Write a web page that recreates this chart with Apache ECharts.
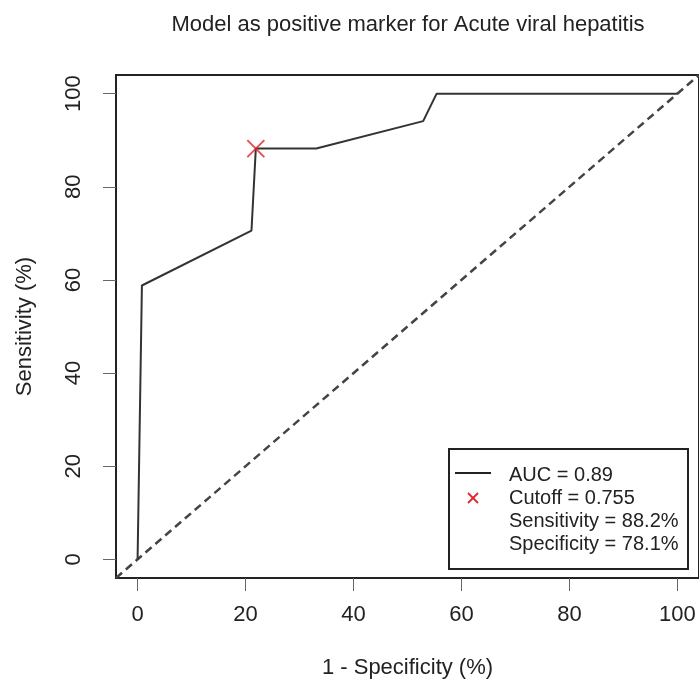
<!DOCTYPE html>
<html>
<head>
<meta charset="utf-8">
<script src="https://cdn.jsdelivr.net/npm/echarts@6/dist/echarts.min.js"></script>
<style>html,body{margin:0;padding:0;background:#fff;}#c{width:699px;height:687px;}</style>
</head>
<body>
<div id="c"></div>
<script>
const fpr = [0, 0.8, 21.1, 21.9, 33.1, 52.9, 55.4, 100];
const tpr = [0, 58.8, 70.6, 88.2, 88.2, 94.1, 100, 100];
const cutoffX = [21.9];
const cutoffY = [88.2];
const diagX = [-4, 104];
const diagY = [-4, 104];
const ticks = [0, 20, 40, 60, 80, 100];
const legendLines = ['AUC = 0.89', 'Cutoff = 0.755', 'Sensitivity = 88.2%', 'Specificity = 78.1%'];

const FONT = '"Liberation Sans", Arial, Helvetica, sans-serif';
const chart = echarts.init(document.getElementById('c'));
const rocData = fpr.map((x, i) => [x, tpr[i]]);
const cutData = cutoffX.map((x, i) => [x, cutoffY[i]]);
const diagData = diagX.map((x, i) => [x, diagY[i]]);
const CROSS = 'path://M0 0L10 10M10 0L0 10';

function axis(name, rotate, margin, nameGap) {
  return {
    type: 'value', min: -4, max: 104,
    name: name, nameLocation: 'middle', nameGap: nameGap,
    nameTextStyle: { fontFamily: FONT, fontSize: 22, color: '#222' },
    axisLine: { show: false, onZero: false },
    splitLine: { show: false },
    axisTick: { show: true, inside: false, customValues: ticks, length: 13, lineStyle: { color: '#666', width: 1 } },
    axisLabel: { show: true, inside: false, customValues: ticks, rotate: rotate, margin: margin, fontFamily: FONT, fontSize: 22, color: '#222' }
  };
}

const lx = 449, ly = 449;
chart.setOption({
  animation: false,
  backgroundColor: '#fff',
  grid: { left: 116, top: 75, width: 585, height: 503, show: true, borderColor: '#222', borderWidth: 2, backgroundColor: 'transparent', containLabel: false },
  xAxis: axis('1 - Specificity (%)', 0, 26, 79),
  yAxis: axis('Sensitivity (%)', 90, 31, 80),
  series: [
    { type: 'line', data: diagData, showSymbol: false, symbol: 'none', silent: true,
      lineStyle: { color: '#444', width: 2.5, type: [8, 5] }, z: 1 },
    { type: 'line', data: rocData, showSymbol: false, symbol: 'none',
      lineStyle: { color: '#333', width: 2 }, z: 2 },
    { type: 'scatter', data: cutData, symbol: CROSS, symbolSize: 17,
      itemStyle: { color: 'none', borderColor: '#e0262e', borderWidth: 2 }, z: 3 }
  ],
  graphic: [
    { type: 'text', z: 10, style: { x: 408, y: 25, text: 'Model as positive marker for Acute viral hepatitis', fontFamily: FONT, fontSize: 22, fill: '#222', textAlign: 'center', textVerticalAlign: 'middle', verticalAlign: 'middle' } },
    { type: 'rect', shape: { x: lx, y: ly, width: 239, height: 120 }, style: { fill: '#fff', stroke: '#222', lineWidth: 2 }, z: 10 },
    { type: 'line', shape: { x1: 455, y1: 473, x2: 491, y2: 473 }, style: { stroke: '#222', lineWidth: 2 }, z: 11 },
    { type: 'line', shape: { x1: 468, y1: 493, x2: 478, y2: 503 }, style: { stroke: '#e0262e', lineWidth: 1.8 }, z: 11 },
    { type: 'line', shape: { x1: 478, y1: 493, x2: 468, y2: 503 }, style: { stroke: '#e0262e', lineWidth: 1.8 }, z: 11 },
    ...legendLines.map((t, i) => ({ type: 'text', z: 11, style: { x: 509, y: 475 + i * 23.3, text: t, fontFamily: FONT, fontSize: 20, fill: '#222', verticalAlign: 'middle', textVerticalAlign: 'middle' } }))
  ]
});
</script>
</body>
</html>
